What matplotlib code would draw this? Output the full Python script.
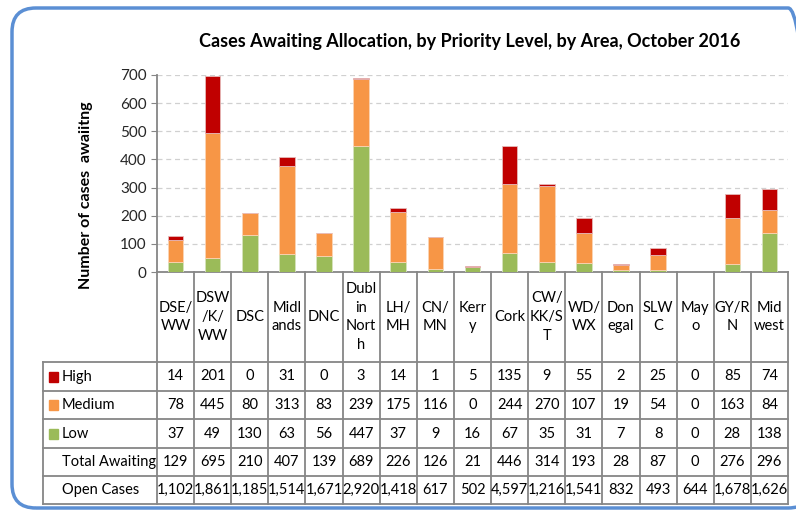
import matplotlib
matplotlib.use("Agg")
import matplotlib.pyplot as plt
from matplotlib.patches import FancyBboxPatch, Rectangle
import numpy as np

plt.rcParams["font.family"] = ["Lato", "DejaVu Sans"]

# data
areas = ["DSE/\nWW", "DSW\n/K/\nWW", "DSC", "Midl\nands", "DNC", "Dubl\nin\nNort\nh",
         "LH/\nMH", "CN/\nMN", "Kerr\ny", "Cork", "CW/\nKK/S\nT", "WD/\nWX",
         "Don\negal", "SLW\nC", "May\no", "GY/R\nN", "Mid\nwest"]
high = [14, 201, 0, 31, 0, 3, 14, 1, 5, 135, 9, 55, 2, 25, 0, 85, 74]
medium = [78, 445, 80, 313, 83, 239, 175, 116, 0, 244, 270, 107, 19, 54, 0, 163, 84]
low = [37, 49, 130, 63, 56, 447, 37, 9, 16, 67, 35, 31, 7, 8, 0, 28, 138]
total = [129, 695, 210, 407, 139, 689, 226, 126, 21, 446, 314, 193, 28, 87, 0, 276, 296]
open_cases = [1102, 1861, 1185, 1514, 1671, 2920, 1418, 617, 502, 4597, 1216, 1541,
              832, 493, 644, 1678, 1626]
yticks = [0, 100, 200, 300, 400, 500, 600, 700]

c_high = "#C00000"
c_med = "#F79646"
c_low = "#9BBB59"
c_line = "#868686"

W, H = 796, 512
fig = plt.figure(figsize=(W / 100, H / 100), dpi=100)

# rounded blue frame
frame = FancyBboxPatch((12 / W, 4 / H), 800 / W, 500 / H,
                       boxstyle="round,pad=0,rounding_size=0.03",
                       transform=fig.transFigure, fill=False,
                       edgecolor="#5B8FD4", linewidth=2.5, mutation_aspect=W / H)
fig.patches.append(frame)

x0, x1, y0, y1 = 157, 788, 272, 75
ax = fig.add_axes([x0 / W, 1 - y0 / H, (x1 - x0) / W, (y0 - y1) / H])
n = len(areas)
x = np.arange(n)
bw = 0.42
low_a, med_a, high_a = np.array(low), np.array(medium), np.array(high)
ax.bar(x, low_a, bw, color=c_low, edgecolor="#D6E3BC", linewidth=0.6, zorder=3)
ax.bar(x, med_a, bw, bottom=low_a, color=c_med, edgecolor="#FBD4B4", linewidth=0.6, zorder=3)
ax.bar(x, high_a, bw, bottom=low_a + med_a, color=c_high, edgecolor="#E6B9B8",
       linewidth=0.6, zorder=3)
ax.set_xlim(-0.5, n - 0.5)
ax.set_ylim(0, 700)
ax.set_yticks(yticks)
ax.tick_params(axis="y", labelsize=11, length=4, color=c_line, labelcolor="#262626")
ax.set_xticks([])
for t in yticks[1:]:
    ax.axhline(t, color="#D0D0D0", linestyle=(0, (4, 3)), linewidth=0.9, zorder=1)
for s in ["top", "right"]:
    ax.spines[s].set_visible(False)
for s in ["left", "bottom"]:
    ax.spines[s].set_color(c_line)
    ax.spines[s].set_linewidth(1.3)
ax.set_ylabel("Number of cases  awaiitng", fontsize=11.5, fontweight="bold")
ax.yaxis.set_label_coords(-0.101, 0.39)

fig.text(470 / W, 1 - 42 / H, "Cases Awaiting Allocation, by Priority Level, by Area, October 2016",
         ha="center", va="center", fontsize=13, fontweight="bold")

# data table below the axis
tl, tr_ = 43, 788
per = (x1 - x0) / n
tab = fig.add_axes([tl / W, 1 - 504 / H, (tr_ - tl) / W, (504 - y0) / H])
tab.set_xlim(-0.5 - (x0 - tl) / per, n - 0.5)
tab.set_ylim(504, y0)
tab.axis("off")
rows = [362, 391, 419, 448, 476, 504]
for i in range(n + 1):
    tab.plot([i - 0.5, i - 0.5], [y0, 504], color=c_line, lw=1.3, clip_on=False)
left = -0.5 - (x0 - tl) / per
tab.plot([left, left], [362, 504], color=c_line, lw=1.3, clip_on=False)
for r in rows:
    tab.plot([left, n - 0.5], [r, r], color=c_line, lw=1.3, clip_on=False)

for i, name in enumerate(areas):
    tab.text(i, 317, name, ha="center", va="center", fontsize=10.5, linespacing=1.45)

row_vals = [high, medium, low, total, [f"{v:,}" for v in open_cases]]
row_names = ["High", "Medium", "Low", "Total Awaiting", "Open Cases"]
keys = [c_high, c_med, c_low, None, None]
lx = left + (62 - tl) / per
for k in range(5):
    yc = (rows[k] + rows[k + 1]) / 2
    for i in range(n):
        tab.text(i, yc, str(row_vals[k][i]), ha="center", va="center", fontsize=10.5)
    tab.text(lx, yc, row_names[k], ha="left", va="center", fontsize=10.5)
    if keys[k]:
        tab.add_patch(Rectangle((left + (49 - tl) / per, yc - 5), 9.5 / per, 10,
                                color=keys[k], clip_on=False))

fig.savefig("out.png", dpi=100)
